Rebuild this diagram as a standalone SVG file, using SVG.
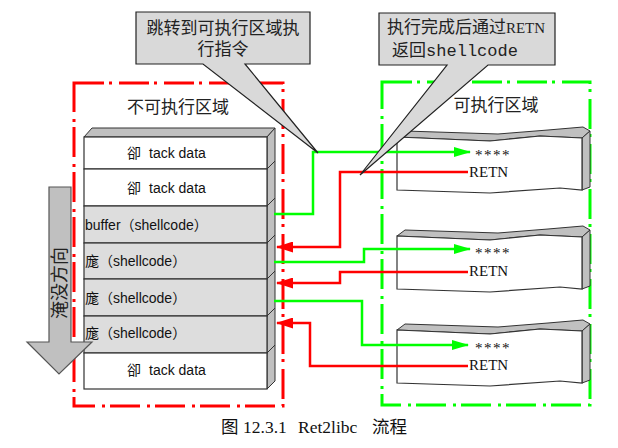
<svg xmlns="http://www.w3.org/2000/svg" width="618" height="448" viewBox="0 0 618 448">
<style>
.region{fill:none;stroke-width:3;stroke-dasharray:30 5 3 7}
.cjk{font-family:"Noto Sans CJK SC",sans-serif}
.lbl{font-family:"Liberation Serif","Noto Sans CJK SC",serif;font-size:17px;fill:#222}
.sans{font-family:"Liberation Sans","Noto Sans CJK SC",sans-serif;font-size:14px;fill:#111}
.serif{font-family:"Liberation Serif","Noto Sans CJK SC",serif;fill:#111}
.row{stroke:#333;stroke-width:1.2}
.face{fill:#c0c0c0;stroke:#333;stroke-width:1}
.callout{fill:#d9d9d9;stroke:#222;stroke-width:1.2}
.red{fill:none;stroke:#ff0000;stroke-width:2.5}
.green{fill:none;stroke:#00ff00;stroke-width:2.5}
</style>
<defs>
<marker id="ar" markerUnits="userSpaceOnUse" markerWidth="17" markerHeight="11" refX="16" refY="5.5" orient="auto"><path d="M0,0 L17,5.5 L0,11 Z" fill="#ff0000"/></marker>
<marker id="ag" markerUnits="userSpaceOnUse" markerWidth="17" markerHeight="10" refX="16" refY="5" orient="auto"><path d="M0,0 L17,5 L0,10 Z" fill="#00ff00"/></marker>
<g id="paper">
<path class="face" d="M397,137 L405,131 L498,134 L548,130 L583,127 L590,131 L582,138 L540,136 L490,141 Z"/>
<path class="face" d="M582,138 L590,131 L590,187 L582,190 Z"/>
<path fill="#fff" stroke="#333" stroke-width="1.2" d="M397,137 L490,141 L540,136 L582,138 L582,190 L560,188 L490,193 L397,190 Z"/>
</g>
</defs>

<g id="region-nonexec">
<rect class="region" x="74" y="83" width="209" height="323" stroke="#ff0000"/>
<text class="lbl" x="178" y="113" text-anchor="middle">不可执行区域</text>
</g>
<g id="region-exec">
<rect class="region" x="382" y="82" width="208" height="323" stroke="#00ff00"/>
<text class="lbl" x="496" y="111" text-anchor="middle">可执行区域</text>
</g>

<g id="stack">
<path class="face" d="M84,137 L92,128 L275,128 L267,137 Z"/>
<path class="face" d="M267,137 L275,128 L275,381 L267,389 Z"/>
<path d="M267,169 L275,161 M267,206 L275,198 M267,243 L275,235 M267,279 L275,271 M267,316 L275,308 M267,353 L275,345" stroke="#333" stroke-width="1" fill="none"/>
<rect class="row" x="84" y="137" width="183" height="32" fill="#fff"/>
<rect class="row" x="84" y="169" width="183" height="37" fill="#fff"/>
<rect class="row" x="84" y="206" width="183" height="37" fill="#dddddd"/>
<rect class="row" x="84" y="243" width="183" height="36" fill="#dddddd"/>
<rect class="row" x="84" y="279" width="183" height="37" fill="#dddddd"/>
<rect class="row" x="84" y="316" width="183" height="37" fill="#dddddd"/>
<rect class="row" x="84" y="353" width="183" height="36" fill="#fff"/>
<text class="sans" y="158"><tspan x="127">卻</tspan><tspan x="149">tack data</tspan></text>
<text class="sans" y="193"><tspan x="127">卻</tspan><tspan x="149">tack data</tspan></text>
<text class="sans" x="85" y="230">buffer（shellcode）</text>
<text class="sans" x="85" y="266">庬（shellcode）</text>
<text class="sans" x="85" y="303">庬（shellcode）</text>
<text class="sans" x="85" y="338">庬（shellcode）</text>
<text class="sans" y="375"><tspan x="127">卻</tspan><tspan x="149">tack data</tspan></text>
</g>

<g id="direction-arrow">
<path d="M49,187 H71 V342 H92 L59,374 L27,342 H49 Z" fill="#c0c0c0" stroke="#555" stroke-width="1.2"/>
<text class="cjk" font-size="18" fill="#222" text-anchor="middle" transform="translate(66,283) rotate(-90)">淹没方向</text>
</g>

<g id="box1"><use href="#paper"/>
<text class="serif" x="475" y="160" font-size="15" letter-spacing="1.5">****</text>
<text class="serif" x="469" y="177" font-size="15">RETN</text></g>
<g id="box2"><use href="#paper" transform="translate(0,99)"/>
<text class="serif" x="475" y="258" font-size="15" letter-spacing="1.5">****</text>
<text class="serif" x="469" y="276" font-size="15">RETN</text></g>
<g id="box3"><use href="#paper" transform="translate(0,193)"/>
<text class="serif" x="475" y="353" font-size="15" letter-spacing="1.5">****</text>
<text class="serif" x="469" y="370" font-size="15">RETN</text></g>

<g id="connectors">
<path class="green" d="M274,214 H313 V152 H470" marker-end="url(#ag)"/>
<path class="red" d="M468,172 H340 V247 H277" marker-end="url(#ar)"/>
<path class="green" d="M274,262 H364 V249 H470" marker-end="url(#ag)"/>
<path class="red" d="M468,272 H340 V283 H277" marker-end="url(#ar)"/>
<path class="green" d="M274,301 H362 V345 H468" marker-end="url(#ag)"/>
<path class="red" d="M468,366 H310 V323 H277" marker-end="url(#ar)"/>
</g>

<g id="callout1">
<path class="callout" d="M136,12 H310 V64 H245 L318,153 L203,64 H136 Z"/>
<text class="lbl" x="223" y="34" text-anchor="middle">跳转到可执行区域执</text>
<text class="lbl" x="223" y="55" text-anchor="middle">行指令</text>
</g>
<g id="callout2">
<path class="callout" d="M379,13 H555 V65 H488 L360,175 L447,65 H379 Z"/>
<text class="lbl" x="466" y="33" text-anchor="middle">执行完成后通过<tspan font-size="15">RETN</tspan></text>
<text class="lbl" x="455" y="56" text-anchor="middle">返回<tspan font-family="Liberation Mono,monospace" font-size="17">shellcode</tspan></text>
</g>

<g id="caption">
<text class="serif" y="433" font-size="17.5" fill="#222"><tspan x="221">图</tspan><tspan x="243">12.3.1</tspan><tspan x="298">Ret2libc</tspan><tspan x="372">流程</tspan></text>
</g>
</svg>
